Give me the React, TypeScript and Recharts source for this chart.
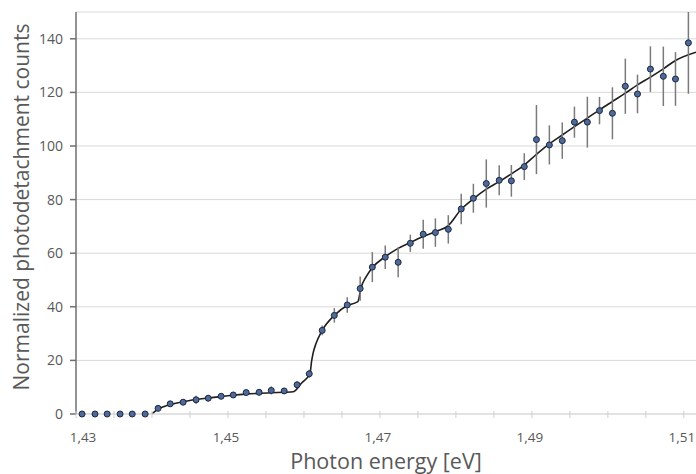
import React from "react";
import { ComposedChart, XAxis, YAxis, CartesianGrid, Line, Scatter, ErrorBar } from "recharts";

const energies = [
  1.4308, 1.4325, 1.4341, 1.4358, 1.4374, 1.4391, 1.4408, 1.4424, 1.4441, 1.4458,
  1.4474, 1.4491, 1.4507, 1.4524, 1.4541, 1.4557, 1.4574, 1.4591, 1.4607, 1.4624,
  1.464, 1.4657, 1.4674, 1.469, 1.4707, 1.4724, 1.474, 1.4757, 1.4773, 1.479,
  1.4807, 1.4823, 1.484, 1.4857, 1.4873, 1.489, 1.4906, 1.4923, 1.494, 1.4956,
  1.4973, 1.4989, 1.5006, 1.5023, 1.5039, 1.5056, 1.5073, 1.5089, 1.5106,
];
const counts = [
  0, 0, 0, 0, 0, 0, 2.1, 3.8, 4.4, 5.3,
  5.9, 6.6, 7.1, 8.0, 8.1, 8.8, 8.6, 10.9, 15.0, 31.2,
  36.8, 40.7, 46.8, 54.8, 58.5, 56.6, 63.7, 67.1, 67.7, 68.9,
  76.5, 80.5, 86.0, 87.2, 87.0, 92.3, 102.4, 100.4, 102.0, 108.9,
  108.9, 113.2, 112.2, 122.3, 119.4, 128.7, 126.0, 125.0, 138.5,
];
const errorsDown = [
  0, 0, 0, 0, 0, 0, 0.8, 1.0, 1.0, 1.5,
  1.2, 1.0, 1.0, 1.0, 1.2, 1.5, 1.0, 1.2, 1.5, 1.8,
  2.7, 2.9, 4.5, 5.6, 4.4, 5.6, 3.2, 5.4, 5.3, 5.3,
  5.7, 5.4, 9.0, 5.6, 5.9, 5.0, 12.9, 7.3, 6.8, 5.8,
  9.5, 5.1, 9.7, 10.3, 7.2, 8.5, 11.1, 10.0, 19.0,
];
const errorsUp = [
  0, 0, 0, 0, 0, 0, 0.8, 1.0, 1.0, 1.5,
  1.2, 1.0, 1.0, 1.0, 1.2, 1.5, 1.0, 1.2, 1.5, 1.8,
  2.7, 2.9, 4.5, 5.6, 4.4, 5.6, 3.2, 5.4, 5.3, 5.3,
  5.7, 5.4, 9.0, 5.6, 5.9, 5.0, 12.9, 7.3, 6.8, 5.8,
  9.5, 5.1, 9.7, 10.3, 7.2, 8.5, 11.1, 10.0, 11.5,
];

const fitEnergies = [
  1.44, 1.4404, 1.4408, 1.4416, 1.4424, 1.4441, 1.4458, 1.4474, 1.4491, 1.4507,
  1.4524, 1.4541, 1.4557, 1.4574, 1.4586, 1.4597, 1.4608, 1.461, 1.4612, 1.4616,
  1.4623, 1.464, 1.4657, 1.4671, 1.4675, 1.4682, 1.469, 1.4707, 1.4724, 1.474,
  1.4757, 1.4773, 1.479, 1.4807, 1.4823, 1.484, 1.4857, 1.4873, 1.489, 1.4906,
  1.4923, 1.494, 1.4956, 1.4973, 1.4989, 1.5006, 1.5023, 1.5039, 1.5056, 1.5073,
  1.5089, 1.5116,
];
const fitCounts = [
  0, 1.0, 1.8, 2.8, 3.5, 4.6, 5.4, 6.0, 6.5, 7.0,
  7.4, 7.7, 7.95, 8.1, 8.3, 11.6, 15.2, 19.5, 22.6, 26.4,
  30.7, 36.8, 40.5, 41.9, 47.0, 51.3, 54.6, 58.7, 61.8, 64.0,
  66.2, 68.0, 70.3, 76.4, 80.3, 83.9, 86.7, 89.6, 92.9, 96.9,
  100.8, 104.1, 107.2, 110.4, 113.5, 116.6, 119.7, 122.8, 125.7, 128.8,
  131.9, 135.0,
];

const xTicks = [
  1.43, 1.435, 1.44, 1.445, 1.45, 1.455, 1.46, 1.465, 1.47, 1.475,
  1.48, 1.485, 1.49, 1.495, 1.5, 1.505, 1.51,
];
const xLabelTicks = [1.43, 1.45, 1.47, 1.49, 1.51];
const yTicks = [0, 20, 40, 60, 80, 100, 120, 140];

const points = energies.map((x, i) => ({ x, y: counts[i], err: [errorsDown[i], errorsUp[i]] }));
const fit = fitEnergies.map((x, i) => ({ x, y: fitCounts[i] }));

const FONT = "'Open Sans', 'Noto Sans', sans-serif";
const TEXT = "#595959";

const XTick = (props: any) => {
  const { x, y, payload, index } = props;
  const v = payload.value;
  const isMajor = xLabelTicks.some((t) => Math.abs(t - v) < 1e-6);
  const label = v.toFixed(2).replace(".", ",");
  return (
    <g>
      <line x1={x} x2={x} y1={y - 3} y2={y + 4} stroke="#d0d0d0" strokeWidth={1} />
      {isMajor && (
        <text x={x + (index === 0 ? 7 : -2)} y={y + 28} textAnchor="middle" fill={TEXT} fontSize={13.5} fontFamily={FONT}>
          {label}
        </text>
      )}
    </g>
  );
};

const Dot = (props: any) => {
  const { cx, cy } = props;
  if (cx == null || cy == null) return null;
  return <circle cx={cx} cy={cy} r={3} fill="#4f6a98" stroke="#1b2740" strokeWidth={1} />;
};

export default function App() {
  return (
    <div style={{ position: "absolute", left: 0, top: 0, width: 696, height: 474, background: "#fff" }}>
      <ComposedChart width={696} height={474} margin={{ top: 12, right: 0, bottom: 0, left: 0 }}>
        <CartesianGrid vertical={false} stroke="#d9d9d9" strokeWidth={1} />
        <XAxis
          type="number"
          dataKey="x"
          domain={[1.43, 1.5116]}
          ticks={xTicks}
          interval={0}
          height={60}
          tick={<XTick />}
          tickLine={false}
          tickSize={0}
          tickMargin={0}
          axisLine={{ stroke: "#d9d9d9", strokeWidth: 1 }}
          label={{
            content: () => (
              <text x={386} y={469} textAnchor="middle" fill={TEXT} fontSize={21.5} fontFamily={FONT}>
                Photon energy [eV]
              </text>
            ),
          }}
        />
        <YAxis
          type="number"
          domain={[0, 150]}
          ticks={yTicks}
          interval={0}
          width={76}
          tickSize={6}
          tickMargin={7}
          tick={{ fill: TEXT, fontSize: 14, fontFamily: FONT }}
          tickLine={{ stroke: "#6f6f6f", strokeWidth: 1.5 }}
          axisLine={{ stroke: "#6f6f6f", strokeWidth: 1.5 }}
          label={{
            content: () => (
              <text
                x={0}
                y={0}
                transform="translate(29, 207) rotate(-90)"
                textAnchor="middle"
                fill={TEXT}
                fontSize={21}
                fontFamily={FONT}
              >
                Normalized photodetachment counts
              </text>
            ),
          }}
        />
        <Line
          data={fit}
          dataKey="y"
          type="monotone"
          stroke="#1f1f1f"
          strokeWidth={1.6}
          dot={false}
          activeDot={false}
          isAnimationActive={false}
        />
        <Scatter data={points} dataKey="y" shape={<Dot />} isAnimationActive={false}>
          <ErrorBar dataKey="err" direction="y" width={0} stroke="#7a7a7a" strokeWidth={1.5} />
        </Scatter>
      </ComposedChart>
    </div>
  );
}
